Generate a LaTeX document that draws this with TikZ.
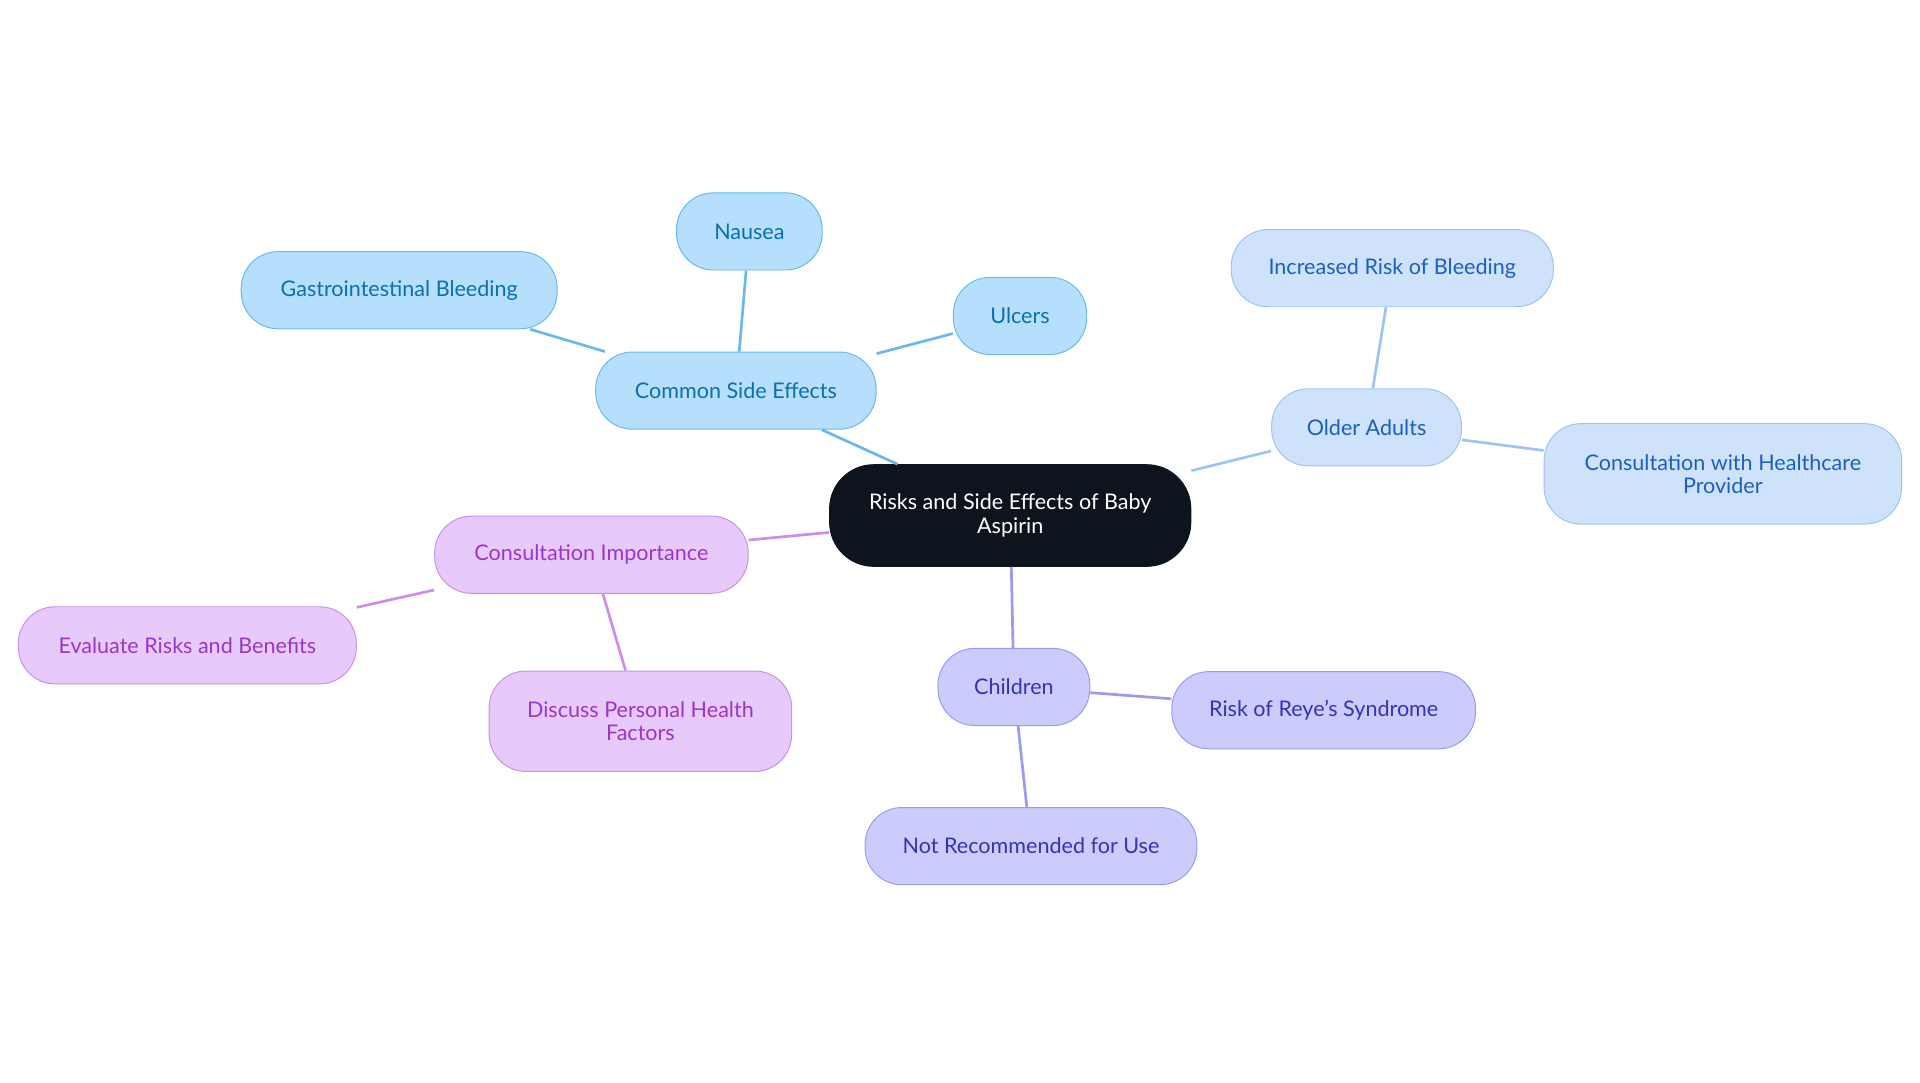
\documentclass[tikz,border=0pt]{standalone}
\usepackage{fontspec}
\setmainfont{Lato}
\usetikzlibrary{positioning}
\definecolor{cseFill}{HTML}{B5DFFC}\definecolor{cseDraw}{HTML}{6AB8F0}\definecolor{cseText}{HTML}{0A6FB5}
\definecolor{oldFill}{HTML}{CFE2FB}\definecolor{oldDraw}{HTML}{9EC3F5}\definecolor{oldText}{HTML}{1A5FC8}
\definecolor{kidFill}{HTML}{CBCBFC}\definecolor{kidDraw}{HTML}{9A9AF0}\definecolor{kidText}{HTML}{3333C0}
\definecolor{conFill}{HTML}{E8C9FC}\definecolor{conDraw}{HTML}{C98EF0}\definecolor{conText}{HTML}{9A35D0}
\definecolor{rootFill}{HTML}{0D141E}
\begin{document}
\begin{tikzpicture}[x=0.5pt,y=-0.5pt,
			every node/.style={rounded corners=15pt, minimum height=31.5pt, align=center,
				font=\fontsize{8.8}{9.5}\selectfont, inner sep=2pt},
			cse/.style={draw=cseDraw, fill=cseFill, text=cseText},
			old/.style={draw=oldDraw, fill=oldFill, text=oldText},
			kid/.style={draw=kidDraw, fill=kidFill, text=kidText},
			con/.style={draw=conDraw, fill=conFill, text=conText},
			root/.style={draw=rootFill, fill=rootFill, text=white, minimum height=41.5pt, rounded corners=18pt},
			link/.style={line width=1.1pt},
			]
			\useasboundingbox (0,0) rectangle (1568,884);
			%Nodes
			\node[root, minimum width=147.5pt] (root) at (825,421) {Risks and Side Effects of Baby\\Aspirin};

			\node[cse, minimum width=114.5pt] (side) at (601,319) {Common Side Effects};
			\node[cse, minimum width=59.5pt]  (nausea) at (612,189) {Nausea};
			\node[cse, minimum width=129pt]   (gi) at (326,237) {Gastrointestinal Bleeding};
			\node[cse, minimum width=54.5pt]  (ulcers) at (833,258) {Ulcers};

			\node[old, minimum width=77.5pt]  (older) at (1116,349) {Older Adults};
			\node[old, minimum width=131.5pt] (bleed) at (1137,219) {Increased Risk of Bleeding};
			\node[old, minimum width=146pt, minimum height=41pt] (provider) at (1407,387) {Consultation with Healthcare\\Provider};

			\node[kid, minimum width=62pt]    (kids) at (828,561) {Children};
			\node[kid, minimum width=124pt]   (reye) at (1081,580) {Risk of Reye's Syndrome};
			\node[kid, minimum width=135.5pt] (notrec) at (842,691) {Not Recommended for Use};

			\node[con, minimum width=128pt]   (consult) at (483,453) {Consultation Importance};
			\node[con, minimum width=138pt]   (evaluate) at (153,527) {Evaluate Risks and Benefits};
			\node[con, minimum width=123.5pt, minimum height=41pt] (discuss) at (523,589) {Discuss Personal Health\\Factors};

			%Links
			\draw[link, cseDraw] (root) -- (side);
			\draw[link, cseDraw] (side) -- (nausea);
			\draw[link, cseDraw] (side) -- (gi);
			\draw[link, cseDraw] (side) -- (ulcers);
			\draw[link, oldDraw] (root) -- (older);
			\draw[link, oldDraw] (older) -- (bleed);
			\draw[link, oldDraw] (older) -- (provider);
			\draw[link, kidDraw] (root) -- (kids);
			\draw[link, kidDraw] (kids) -- (reye);
			\draw[link, kidDraw] (kids) -- (notrec);
			\draw[link, conDraw] (root) -- (consult);
			\draw[link, conDraw] (consult) -- (evaluate);
			\draw[link, conDraw] (consult) -- (discuss);
		\end{tikzpicture}
\end{document}
